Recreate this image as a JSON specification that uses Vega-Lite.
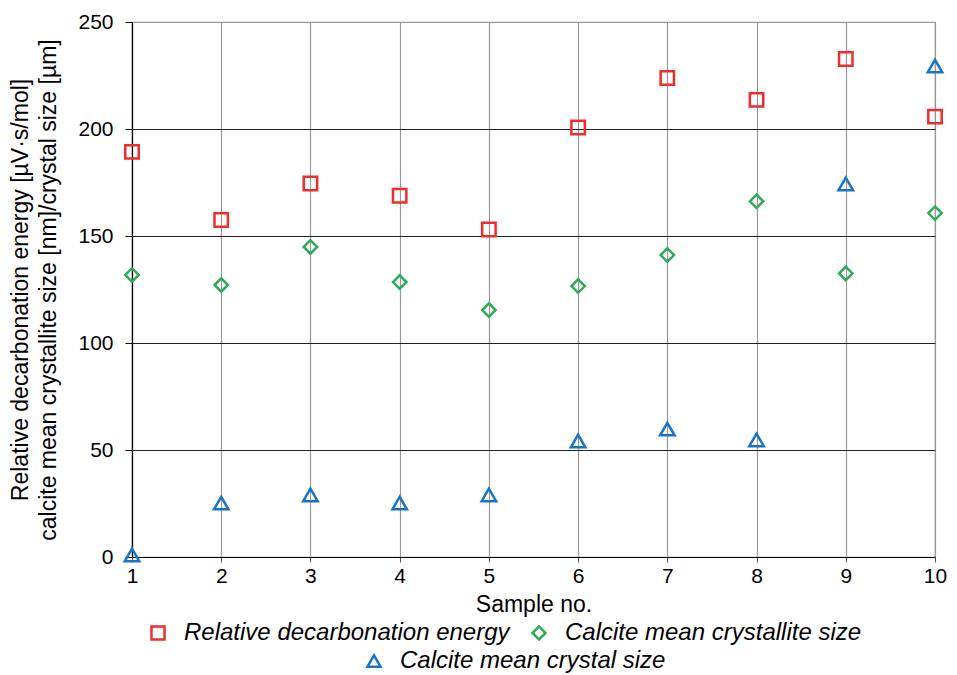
{
  "$schema": "https://vega.github.io/schema/vega-lite/v6.json",
  "width": 803,
  "height": 535,
  "autosize": {"type": "none"},
  "padding": {"left": 132, "top": 22, "right": 22, "bottom": 118},
  "background": "white",
  "config": {
    "font": "Liberation Sans",
    "view": {"stroke": "#999999", "strokeWidth": 1.2},
    "axis": {"labelFont": "Liberation Sans", "titleFont": "Liberation Sans", "labelColor": "#000", "titleColor": "#000", "titleFontWeight": "normal"}
  },
  "datasets": {
    "main": [
      {"sample": 1, "series": "Relative decarbonation energy", "value": 189.3},
      {"sample": 2, "series": "Relative decarbonation energy", "value": 157.5},
      {"sample": 3, "series": "Relative decarbonation energy", "value": 174.5},
      {"sample": 4, "series": "Relative decarbonation energy", "value": 168.8},
      {"sample": 5, "series": "Relative decarbonation energy", "value": 153.0},
      {"sample": 6, "series": "Relative decarbonation energy", "value": 200.7},
      {"sample": 7, "series": "Relative decarbonation energy", "value": 223.8},
      {"sample": 8, "series": "Relative decarbonation energy", "value": 213.6},
      {"sample": 9, "series": "Relative decarbonation energy", "value": 232.7},
      {"sample": 10, "series": "Relative decarbonation energy", "value": 205.8},
      {"sample": 1, "series": "Calcite mean crystallite size", "value": 131.8},
      {"sample": 2, "series": "Calcite mean crystallite size", "value": 127.1},
      {"sample": 3, "series": "Calcite mean crystallite size", "value": 144.9},
      {"sample": 4, "series": "Calcite mean crystallite size", "value": 128.5},
      {"sample": 5, "series": "Calcite mean crystallite size", "value": 115.4},
      {"sample": 6, "series": "Calcite mean crystallite size", "value": 126.6},
      {"sample": 7, "series": "Calcite mean crystallite size", "value": 141.1},
      {"sample": 8, "series": "Calcite mean crystallite size", "value": 166.2},
      {"sample": 9, "series": "Calcite mean crystallite size", "value": 132.5},
      {"sample": 10, "series": "Calcite mean crystallite size", "value": 160.7}
    ],
    "crystal": [
      {"sample": 1, "series": "Calcite mean crystal size", "value": 1.0},
      {"sample": 2, "series": "Calcite mean crystal size", "value": 25.2},
      {"sample": 3, "series": "Calcite mean crystal size", "value": 29.0},
      {"sample": 4, "series": "Calcite mean crystal size", "value": 25.2},
      {"sample": 5, "series": "Calcite mean crystal size", "value": 29.0},
      {"sample": 6, "series": "Calcite mean crystal size", "value": 54.2},
      {"sample": 7, "series": "Calcite mean crystal size", "value": 59.8},
      {"sample": 8, "series": "Calcite mean crystal size", "value": 54.7},
      {"sample": 9, "series": "Calcite mean crystal size", "value": 174.3},
      {"sample": 10, "series": "Calcite mean crystal size", "value": 229.4}
    ]
  },
  "encoding": {
    "x": {
      "field": "sample", "type": "quantitative",
      "scale": {"domain": [1, 10], "nice": false, "zero": false},
      "axis": {
        "title": "Sample no.", "titleFontSize": 23, "titlePadding": 7,
        "values": [1, 2, 3, 4, 5, 6, 7, 8, 9, 10], "labelFontSize": 21, "labelPadding": 3, "labelFlush": false, "labelBound": false,
        "domainColor": "#000", "domainWidth": 1.2, "tickColor": "#555", "tickSize": 5,
        "grid": true, "gridColor": "#999999", "gridWidth": 1.2
      }
    },
    "y": {
      "field": "value", "type": "quantitative",
      "scale": {"domain": [0, 250], "nice": false},
      "axis": {
        "title": ["Relative decarbonation energy  [µV·s/mol]", "calcite mean crystallite size [nm]/crystal size [µm]"],
        "titleFontSize": 23, "titleLineHeight": 28, "titlePadding": 17,
        "values": [0, 50, 100, 150, 200, 250], "labelFontSize": 21, "labelPadding": 12, "labelFlush": false,
        "domainColor": "#000", "domainWidth": 1.2, "tickColor": "#000", "tickSize": 7,
        "grid": true, "gridColor": {"condition": {"test": "datum.value == 250", "value": "#999999"}, "value": "#222222"}, "gridWidth": 1.2
      }
    }
  },
  "layer": [
    {
      "data": {"name": "main"},
      "mark": {"type": "point", "filled": false, "strokeWidth": 2.5, "size": 180, "opacity": 1},
      "encoding": {
        "color": {
          "field": "series", "type": "nominal",
          "scale": {"domain": ["Relative decarbonation energy", "Calcite mean crystallite size"], "range": ["#EE2D2D", "#2DAA5A"]},
          "legend": {"orient": "none", "legendX": 14, "legendY": 599, "direction": "horizontal", "title": null, "labelFontSize": 24, "labelFontStyle": "italic", "labelColor": "#000", "labelLimit": 500, "columnPadding": 17, "symbolStrokeWidth": 2.5, "symbolSize": 170, "labelOffset": 14, "padding": 0}
        },
        "shape": {
          "field": "series", "type": "nominal",
          "scale": {"domain": ["Relative decarbonation energy", "Calcite mean crystallite size"], "range": ["square", "diamond"]},
          "legend": {"orient": "none", "legendX": 14, "legendY": 599, "direction": "horizontal", "title": null, "labelFontSize": 24, "labelFontStyle": "italic", "labelColor": "#000", "labelLimit": 500, "columnPadding": 17, "symbolStrokeWidth": 2.5, "symbolSize": 170, "labelOffset": 14, "padding": 0}
        }
      }
    },
    {
      "data": {"name": "crystal"},
      "mark": {"type": "point", "filled": false, "strokeWidth": 2.5, "size": 210, "opacity": 1},
      "encoding": {
        "color": {
          "field": "series", "type": "nominal",
          "scale": {"domain": ["Calcite mean crystal size"], "range": ["#1A74C4"]},
          "legend": {"orient": "none", "legendX": 230, "legendY": 627, "direction": "horizontal", "title": null, "labelFontSize": 24, "labelFontStyle": "italic", "labelColor": "#000", "labelLimit": 500, "symbolStrokeWidth": 2.5, "symbolSize": 170, "labelOffset": 14, "padding": 0}
        },
        "shape": {
          "field": "series", "type": "nominal",
          "scale": {"domain": ["Calcite mean crystal size"], "range": ["triangle-up"]},
          "legend": {"orient": "none", "legendX": 230, "legendY": 627, "direction": "horizontal", "title": null, "labelFontSize": 24, "labelFontStyle": "italic", "labelColor": "#000", "labelLimit": 500, "symbolStrokeWidth": 2.5, "symbolSize": 170, "labelOffset": 14, "padding": 0}
        }
      }
    }
  ],
  "resolve": {"scale": {"color": "independent", "shape": "independent"}}
}
